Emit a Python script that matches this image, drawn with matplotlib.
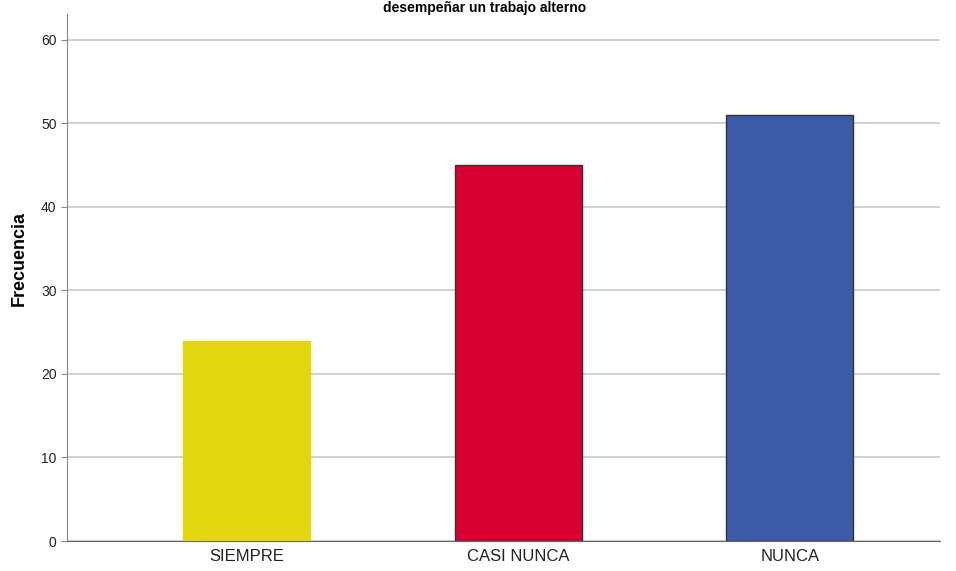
import matplotlib
matplotlib.use("Agg")
import matplotlib.pyplot as plt

# Data
categories = ["SIEMPRE", "CASI NUNCA", "NUNCA"]
counts = [24, 45, 51]
bar_colors = ["#E2D610", "#D70030", "#3D5AA8"]
edge_colors = ["#E2D610", "#333333", "#333333"]
yticks = [0, 10, 20, 30, 40, 50, 60]

plt.rcParams['font.family'] = ['Liberation Sans', 'DejaVu Sans']

fig = plt.figure(figsize=(9.56, 5.71), dpi=100)
ax = fig.add_axes([0.0701, 0.0525, 0.9132, 0.923])

x = range(len(categories))
ax.bar(x, counts, width=0.467, color=bar_colors, edgecolor=edge_colors,
       linewidth=1.0, zorder=3)

ax.set_xlim(-0.66, 2.553)
ax.set_ylim(0, 63.1)
ax.set_yticks(yticks)
ax.set_xticks(list(x))
ax.set_xticklabels(categories, fontsize=12, color="#222222")
ax.tick_params(axis='y', labelsize=10, length=4, color="#888888", labelcolor="#222222")
ax.tick_params(axis='x', length=0, pad=6)

ax.yaxis.grid(True, color="#c8c8c8", linewidth=1.2, zorder=0)
ax.set_axisbelow(True)

for s in ["top", "right"]:
    ax.spines[s].set_visible(False)
ax.spines["left"].set_color("#888888")
ax.spines["bottom"].set_color("#666666")

ax.set_ylabel("Frecuencia", fontsize=13, fontweight="bold")
ax.yaxis.set_label_coords(-0.045, 0.537)

# title sits at the very top edge of the figure
fig.text(0.507, 0.998, "desempeñar un trabajo alterno", ha="center", va="top",
         fontsize=10, fontweight="bold")

fig.savefig("out.png", dpi=100)
